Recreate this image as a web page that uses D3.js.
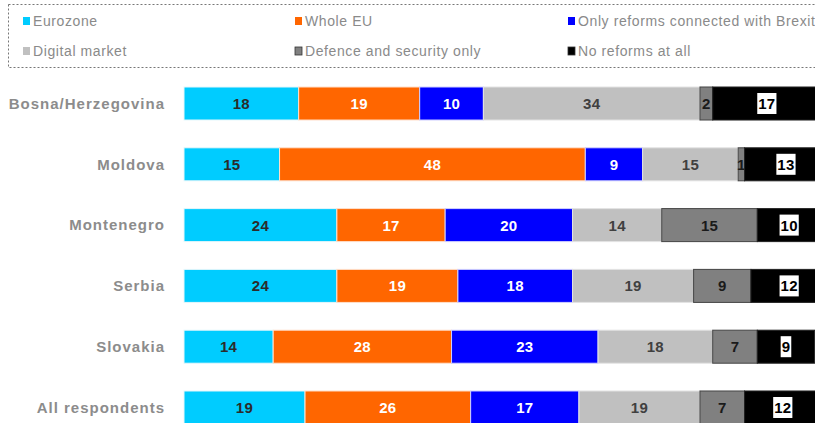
<!DOCTYPE html>
<html><head><meta charset="utf-8">
<script src="https://cdn.jsdelivr.net/npm/d3@7"></script>
<style>body{margin:0;background:#fff}svg{display:block}</style>
</head><body>
<svg id="chart" width="815" height="423"></svg>
<script>
const categories = ["Bosna/Herzegovina","Moldova","Montenegro","Serbia","Slovakia","All respondents"];
const seriesNames = ["Eurozone","Whole EU","Only reforms connected with Brexit","Digital market","Defence and security only","No reforms at all"];
const eurozone = [18,15,24,24,14,19];
const wholeEU = [19,48,17,19,28,26];
const brexitOnly = [10,9,20,18,23,17];
const digital = [34,15,14,19,18,19];
const defence = [2,1,15,9,7,7];
const noReforms = [17,13,10,12,9,12];
const seriesValues = [eurozone, wholeEU, brexitOnly, digital, defence, noReforms];
const colors = ["#00CCFF","#FF6600","#0000FF","#C0C0C0","#808080","#000000"];
const textColors = ["#2b2b2b","#ffffff","#ffffff","#404040","#1a1a1a","#000000"];
const strokes = ["#e6f7fb","#ffe0cc","#d0d0ff","#e3e3e3","#444444","#222222"];
const FONT = "Liberation Sans, Arial, sans-serif";

const svg = d3.select("#chart");
const x = d3.scaleLinear().domain([0,100]).range([184,821]);
const y = d3.scaleBand().domain(categories).range([56.6,454.4]).paddingInner(0.457).paddingOuter(0.5);

// legend
const lg = svg.append("g");
lg.append("rect").attr("x",8.5).attr("y",4.5).attr("width",820).attr("height",63)
  .attr("fill","none").attr("stroke","#777").attr("stroke-width",1).attr("stroke-dasharray","2,2");
const lcols = [23,295,568], lrows = [21,51];
seriesNames.forEach((n,i)=>{
  const gx = lcols[i%3], gy = lrows[Math.floor(i/3)];
  lg.append("rect").attr("x",gx).attr("y",gy-4).attr("width",7).attr("height",8)
    .attr("fill",colors[i]).attr("stroke", i>=4 ? "#333":"none").attr("stroke-width",0.8);
  lg.append("text").attr("x",gx+10).attr("y",gy).attr("dy","0.35em")
    .attr("font-family",FONT).attr("font-size",14).attr("letter-spacing",0.6)
    .attr("fill","#8a8a8a").text(n);
});

// category labels
svg.append("g").selectAll("text").data(categories).join("text")
  .attr("x",165).attr("y",d=>y(d)+y.bandwidth()/2).attr("dy","0.35em")
  .attr("text-anchor","end").attr("font-family",FONT).attr("letter-spacing",1)
  .attr("font-size",15).attr("font-weight","bold").attr("fill","#8c8c8c").text(d=>d);

// bars
categories.forEach((c,ci)=>{
  let cum = 0;
  const g = svg.append("g");
  seriesValues.forEach((vals,si)=>{
    const v = vals[ci];
    const x0 = x(cum), x1 = x(cum+v);
    g.append("rect").attr("x",x0).attr("y",y(c)).attr("width",x1-x0).attr("height",y.bandwidth())
      .attr("fill",colors[si]).attr("stroke",strokes[si]).attr("stroke-width",1);
    const cx = (x0+x1)/2, cy = y(c)+y.bandwidth()/2;
    const label = String(v);
    if (si===5) {
      const w = label.length*8.6+2;
      g.append("rect").attr("x",cx-w/2).attr("y",cy-10.5).attr("width",w).attr("height",21).attr("fill","#fff");
    }
    g.append("text").attr("x",cx).attr("y",cy).attr("dy","0.36em").attr("text-anchor","middle")
      .attr("font-family",FONT).attr("font-size",15).attr("font-weight","bold").attr("letter-spacing",0.3)
      .attr("fill",textColors[si]).text(label);
    cum += v;
  });
});
</script>
</body></html>
